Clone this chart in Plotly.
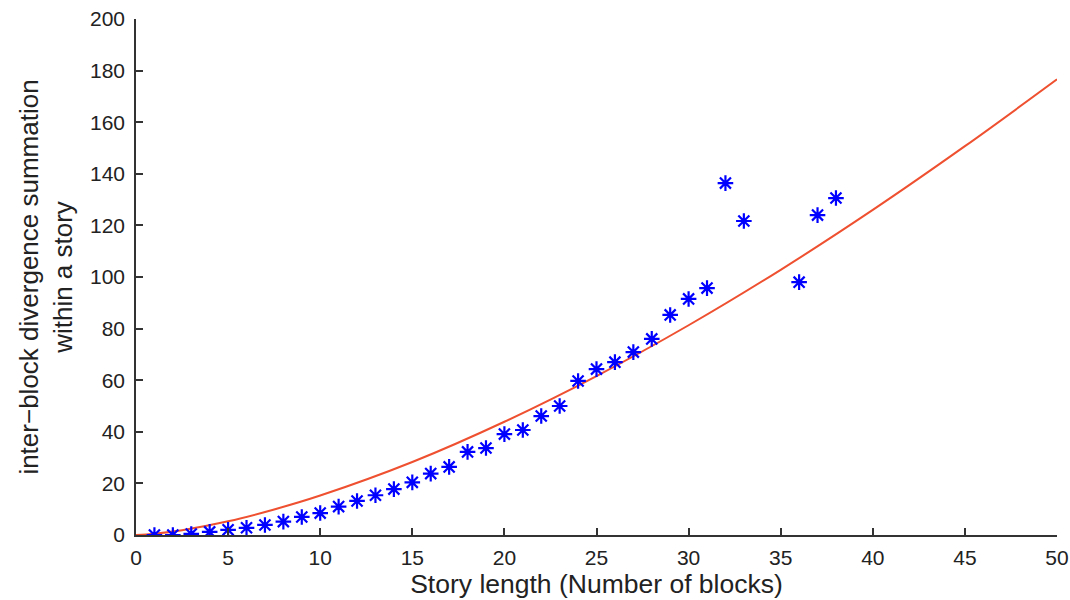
import plotly.graph_objects as go

# Observed data (story length vs inter-block divergence summation)
story_length = [1, 2, 3, 4, 5, 6, 7, 8, 9, 10, 11, 12, 13, 14, 15, 16, 17, 18, 19, 20,
                21, 22, 23, 24, 25, 26, 27, 28, 29, 30, 31, 32, 33, 36, 37, 38]
divergence = [0, 0, 0.4, 1.2, 2, 2.8, 3.9, 5.2, 7, 8.5, 11, 13.2, 15.4, 17.8, 20.4, 23.8,
              26.4, 32.2, 33.7, 39.1, 40.7, 46.1, 50, 59.7, 64.3, 67, 70.9, 76, 85.3, 91.5,
              95.7, 136.4, 121.7, 98, 124, 130.6]

# Fitted curve, values
fit_x = [0, 1, 2.5, 5, 7.5, 10, 15, 20, 25, 30, 35, 40, 45, 50]
fit_y = [0, 0.5, 1.85, 5.3, 9.9, 15.3, 28.3, 43.9, 61.6, 81.3, 102.8, 126.0, 150.7, 176.6]

x_ticks = [0, 5, 10, 15, 20, 25, 30, 35, 40, 45, 50]
y_ticks = [0, 20, 40, 60, 80, 100, 120, 140, 160, 180, 200]

fig = go.Figure()
fig.add_trace(go.Scatter(
    x=fit_x, y=fit_y, mode="lines",
    line=dict(color="#EE5030", width=2, shape="spline"),
    showlegend=False, hoverinfo="skip"))
fig.add_trace(go.Scatter(
    x=story_length, y=divergence, mode="markers",
    marker=dict(symbol="asterisk-open", size=13, color="#0000FF",
                line=dict(color="#0000FF", width=2.2)),
    showlegend=False))

font = "Liberation Sans, Arial, sans-serif"
fig.update_layout(
    width=1070, height=600,
    margin=dict(l=136, r=13, t=19, b=65, autoexpand=False),
    paper_bgcolor="white", plot_bgcolor="white",
    font=dict(family=font, size=21, color="#222222"),
    xaxis=dict(range=[0, 50], tickvals=x_ticks, ticks="inside", ticklen=7,
               tickwidth=1.5, tickcolor="#333333", showline=True, linecolor="#333333",
               linewidth=1.5, showgrid=False, zeroline=False, mirror=False,
               tickfont=dict(size=21), ticklabelstandoff=3, automargin=False,
               ticklabeloverflow="allow",
               title=dict(text="Story length (Number of blocks)", font=dict(size=26.5), standoff=2)),
    yaxis=dict(range=[0, 200], tickvals=y_ticks, ticks="inside", ticklen=7,
               tickwidth=1.5, tickcolor="#333333", showline=True, linecolor="#333333",
               linewidth=1.5, showgrid=False, zeroline=False, mirror=False,
               tickfont=dict(size=21), ticklabelstandoff=5, automargin=False,
               ticklabeloverflow="allow",
               title=dict(text="inter\u2212block divergence summation<br>within a story",
                          font=dict(size=26), standoff=10)),
)

fig.write_html("out.html", config={"displayModeBar": False},
               post_script="document.body.style.margin='0';document.body.style.overflow='hidden';")
